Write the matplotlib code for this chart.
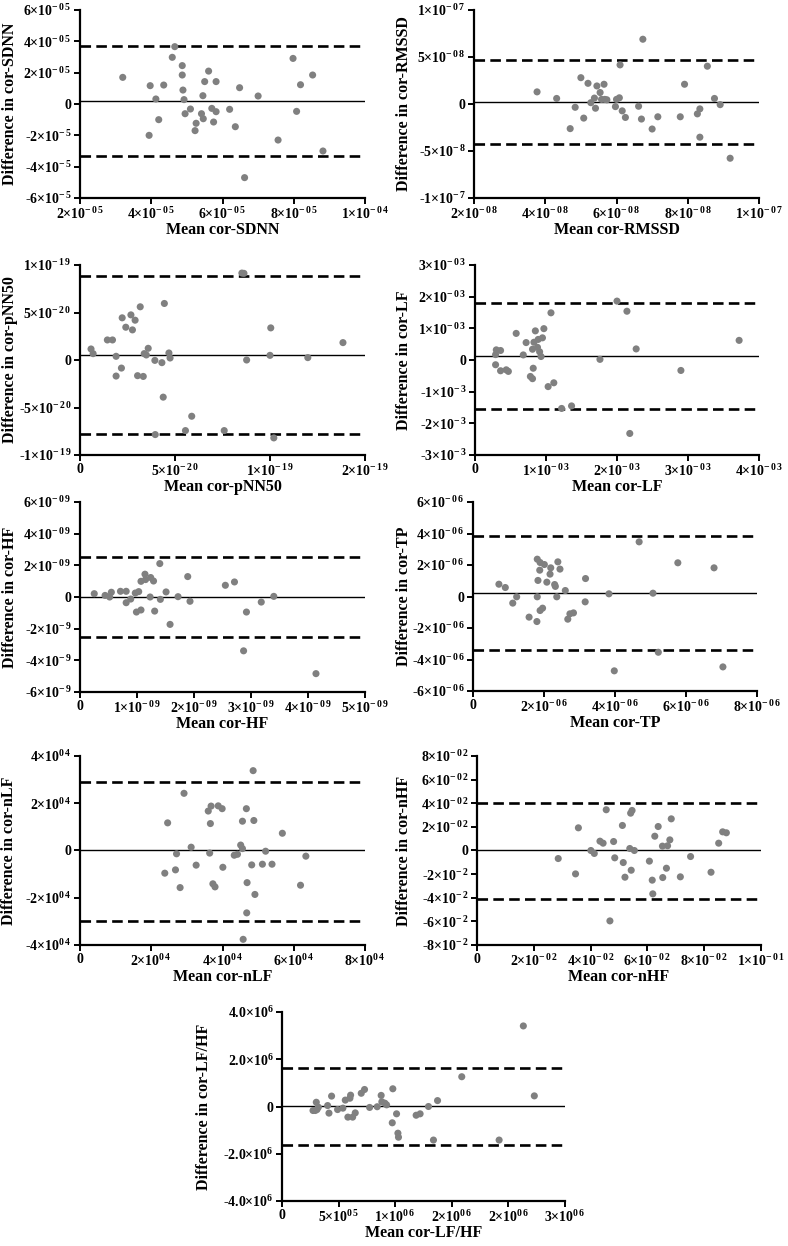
import numpy as np
import matplotlib
matplotlib.use("Agg")
import matplotlib.pyplot as plt

plt.rcParams.update({
    "font.family": "Liberation Serif",
    "font.weight": "bold",
    "mathtext.fontset": "custom",
    "mathtext.rm": "Liberation Serif:bold",
    "mathtext.it": "Liberation Serif:bold:italic",
    "mathtext.bf": "Liberation Serif:bold",
})

W, H = 788, 1246


def sci(m, e):
    # exponent characters are spaced out like in the original figure
    return m + "\u00d710$^{" + r"\,".join(e) + "}$"


# ---------------- data ----------------
sdnn_x = np.array([3.2, 3.97, 4.35, 4.13, 4.21, 3.94, 4.59, 4.66, 4.87, 4.87, 4.89, 4.92,
                   4.95, 5.1, 5.26, 5.23, 5.61, 5.5, 5.82, 5.45, 5.41, 5.46, 5.7, 5.82,
                   5.75, 6.2, 6.36, 6.48, 6.62, 7.0, 7.56, 7.98, 8.08, 8.19, 8.53, 8.82]) * 1e-5
sdnn_y = np.array([1.7, 1.17, 1.21, 0.32, -1.0, -2.0, 2.98, 3.66, 2.45, 1.85, 0.89, 0.28,
                   -0.62, -0.32, -1.23, -1.7, 2.1, 1.43, 1.43, 0.53, -0.62, -0.94, -0.28, -0.49,
                   -1.15, -0.34, -1.45, 1.04, -4.7, 0.51, -2.3, 2.91, -0.47, 1.23, 1.85, -3.0]) * 1e-5
sdnn_lines = np.array([0.21, 3.72, -3.3]) * 1e-5

rmssd_x = np.array([3.77, 4.32, 4.7, 4.84, 5.0, 5.08, 5.2, 5.28, 5.38, 5.41, 5.45, 5.54,
                    5.58, 5.65, 5.67, 5.73, 5.97, 6.0, 6.08, 6.1, 6.16, 6.25, 6.62, 6.7,
                    6.74, 7.0, 7.16, 7.79, 7.91, 8.27, 8.34, 8.34, 8.55, 8.75, 8.91, 9.19]) * 1e-8
rmssd_y = np.array([1.29, 0.59, -2.62, -0.35, 2.8, -1.5, 2.2, 0.14, 0.63, -0.45, 1.92, 1.22,
                    0.49, 2.1, 0.49, 0.45, -0.28, 0.49, 0.66, 4.16, -0.73, -1.43, -0.24, -1.6,
                    6.89, -2.66, -1.36, -1.36, 2.1, -1.05, -0.52, -3.53, 4.02, 0.59, -0.07, -5.77]) * 1e-8
rmssd_lines = np.array([0.25, 4.65, -4.3]) * 1e-8

pnn50_x = np.array([0.58, 0.69, 1.44, 1.71, 1.9, 1.9, 2.18, 2.22, 2.41, 2.68, 2.76, 2.9,
                    3.03, 3.17, 3.33, 3.38, 3.49, 3.59, 3.94, 3.96, 4.31, 4.38, 4.44, 4.68,
                    4.74, 5.55, 5.88, 7.59, 8.52, 8.63, 8.77, 10.04, 10.0, 10.2, 11.99, 13.84]) * 1e-20
pnn50_y = np.array([1.16, 0.67, 2.11, 2.11, 0.39, -1.69, -0.85, 4.44, 3.45, 4.75, 3.17, 4.19,
                    -1.65, 5.6, -1.73, 0.67, 0.53, 1.23, -0.04, -7.85, -0.28, -3.91, 5.95, 0.74,
                    0.21, -7.43, -5.92, -7.43, 9.15, 9.12, 0.0, 3.38, 0.49, -8.2, 0.25, 1.83]) * 1e-20
pnn50_lines = np.array([0.53, 8.87, -7.78]) * 1e-20

lf_x = np.array([0.3, 0.29, 0.36, 0.29, 0.36, 0.44, 0.47, 0.58, 0.68, 0.72, 0.78, 0.81,
                 0.82, 0.81, 0.83, 0.85, 0.88, 0.89, 0.91, 0.95, 0.93, 0.97, 1.03, 1.07,
                 1.11, 1.22, 1.36, 1.76, 2.0, 2.14, 2.18, 2.27, 2.9, 3.72]) * 1e-3
lf_y = np.array([0.32, 0.17, 0.3, -0.15, -0.34, -0.31, -0.36, 0.84, 0.16, 0.55, -0.52, -0.59,
                 -0.26, 0.34, 0.56, 0.92, 0.4, 0.65, 0.26, 0.7, 0.11, 0.99, -0.84, 1.49,
                 -0.72, -1.53, -1.45, 0.02, 1.86, 1.54, -2.32, 0.35, -0.33, 0.62]) * 1e-3
lf_lines = np.array([0.127, 1.8, -1.56]) * 1e-3

hf_x = np.array([0.25, 0.44, 0.52, 0.55, 0.71, 0.81, 0.81, 0.89, 0.97, 1.03, 0.99, 1.07,
                 1.07, 1.14, 1.15, 1.24, 1.23, 1.29, 1.31, 1.4, 1.41, 1.51, 1.58, 1.72,
                 1.89, 1.93, 2.55, 2.71, 2.87, 2.92, 3.18, 3.4, 4.14]) * 1e-9
hf_y = np.array([0.21, 0.1, 0.0, 0.3, 0.36, 0.36, -0.36, -0.13, 0.25, 0.34, -0.95, -0.82,
                 0.99, 1.44, 1.1, 1.23, 0.0, 1.01, -0.89, 2.11, -0.15, 0.32, -1.73, 0.02,
                 1.29, -0.27, 0.74, 0.95, -3.4, -0.95, -0.32, 0.04, -4.84]) * 1e-9
hf_lines = np.array([0.0, 2.5, -2.54]) * 1e-9

tp_x = np.array([0.73, 0.91, 1.12, 1.23, 1.58, 1.8, 1.81, 1.83, 1.81, 1.89, 1.88, 1.89,
                 1.96, 2.01, 2.08, 2.17, 2.19, 2.3, 2.32, 2.36, 2.39, 2.45, 2.6, 2.67,
                 2.73, 2.83, 3.16, 3.17, 3.83, 3.98, 4.68, 5.07, 5.22, 5.77, 6.79, 7.04]) * 1e-6
tp_y = np.array([0.78, 0.57, -0.42, -0.02, -1.31, -1.59, -0.02, 1.02, 2.37, 2.16, 1.67, -0.89,
                 -0.74, 2.03, 0.91, 1.42, 1.82, 0.76, 0.64, -0.02, 2.2, 1.74, 0.38, -1.44,
                 -1.1, -1.04, -0.34, 1.14, 0.17, -4.72, 3.47, 0.21, -3.54, 2.14, 1.82, -4.47]) * 1e-6
tp_lines = np.array([0.21, 3.81, -3.41]) * 1e-6

nlf_x = np.array([2.38, 2.46, 2.68, 2.71, 2.81, 2.92, 3.12, 3.26, 3.6, 3.64, 3.66, 3.68,
                  3.73, 3.79, 3.88, 3.99, 4.01, 4.33, 4.42, 4.51, 4.56, 4.56, 4.58, 4.67,
                  4.68, 4.69, 4.82, 4.86, 4.88, 4.91, 5.12, 5.21, 5.39, 5.68, 6.19, 6.34]) * 1e4
nlf_y = np.array([-0.96, 1.17, -0.82, -0.14, -1.57, 2.42, 0.14, -0.62, 1.67, -0.11, 1.14, 1.88,
                  -1.41, -1.54, 1.89, 1.77, -0.71, -0.2, -0.16, 0.23, 0.08, 1.24, -3.76, 1.77,
                  -2.64, -1.36, -0.61, 3.38, 1.27, -1.86, -0.58, -0.03, -0.58, 0.73, -1.47, -0.24]) * 1e4
nlf_lines = np.array([0.0, 2.91, -2.97]) * 1e4

nhf_x = np.array([2.86, 3.47, 3.57, 4.01, 4.13, 4.33, 4.44, 4.55, 4.68, 4.81, 4.85, 5.12,
                  5.15, 5.21, 5.38, 5.41, 5.46, 5.43, 5.54, 6.07, 6.17, 6.19, 6.26, 6.38,
                  6.53, 6.54, 6.67, 6.71, 6.79, 6.84, 7.16, 7.52, 8.24, 8.51, 8.65, 8.78]) * 1e-2
nhf_y = np.array([-0.68, -1.98, 1.92, 0.0, -0.25, 0.79, 0.62, 3.45, -5.96, 0.76, -0.62, 2.12,
                  -1.02, -2.26, 0.17, 3.16, 3.39, -1.67, 0.0, -0.9, -2.51, -3.67, 1.21, 2.03,
                  0.37, -2.29, -1.5, 0.4, 0.9, 2.68, -2.23, -0.51, -1.84, 0.62, 1.58, 1.5]) * 1e-2
nhf_lines = np.array([0.0, 4.0, -4.1]) * 1e-2

lfhf_x = np.array([2.74, 2.94, 3.09, 3.03, 3.21, 4.03, 4.15, 4.38, 4.91, 5.38, 5.59, 5.82,
                   6.0, 6.06, 6.24, 6.47, 7.0, 7.29, 7.74, 8.41, 8.76, 8.82, 9.09, 9.24,
                   9.74, 9.79, 10.12, 10.24, 10.29, 11.85, 12.2, 12.94, 13.38, 13.74, 15.88,
                   19.18, 21.32, 22.29]) * 1e5
lfhf_y = np.array([-0.17, -0.17, -0.13, 0.18, -0.03, 0.04, -0.28, 0.44, -0.13, -0.07, 0.27, -0.45,
                   0.35, 0.48, -0.45, -0.27, 0.56, 0.72, -0.04, -0.01, 0.47, 0.2, 0.14, 0.07,
                   -0.69, 0.75, -0.31, -1.13, -1.3, -0.37, -0.31, 0.0, -1.42, 0.25, 1.26,
                   -1.42, 3.41, 0.45]) * 1e6
lfhf_lines = np.array([0.02, 1.65, -1.62]) * 1e6

# tick positions and labels
sdnn_xt = [2e-5, 4e-5, 6e-5, 8e-5, 1e-4]
sdnn_xl = [sci("2", "-05"), sci("4", "-05"), sci("6", "-05"), sci("8", "-05"), sci("1", "-04")]
sdnn_yt = [-6e-5, -4e-5, -2e-5, 0, 2e-5, 4e-5, 6e-5]
sdnn_yl = [sci("-6", "-5"), sci("-4", "-5"), sci("-2", "-5"), "0",
           sci("2", "-05"), sci("4", "-05"), sci("6", "-05")]

rmssd_xt = [2e-8, 4e-8, 6e-8, 8e-8, 1e-7]
rmssd_xl = [sci("2", "-08"), sci("4", "-08"), sci("6", "-08"), sci("8", "-08"), sci("1", "-07")]
rmssd_yt = [-1e-7, -5e-8, 0, 5e-8, 1e-7]
rmssd_yl = [sci("-1", "-7"), sci("-5", "-8"), "0", sci("5", "-08"), sci("1", "-07")]

pnn50_xt = [0, 5e-20, 1e-19, 1.5e-19]
pnn50_xl = ["0", sci("5", "-20"), sci("1", "-19"), sci("2", "-19")]
pnn50_yt = [-1e-19, -5e-20, 0, 5e-20, 1e-19]
pnn50_yl = [sci("-1", "-19"), sci("-5", "-20"), "0", sci("5", "-20"), sci("1", "-19")]

lf_xt = [0, 1e-3, 2e-3, 3e-3, 4e-3]
lf_xl = ["0", sci("1", "-03"), sci("2", "-03"), sci("3", "-03"), sci("4", "-03")]
lf_yt = [-3e-3, -2e-3, -1e-3, 0, 1e-3, 2e-3, 3e-3]
lf_yl = [sci("-3", "-3"), sci("-2", "-3"), sci("-1", "-3"), "0",
         sci("1", "-03"), sci("2", "-03"), sci("3", "-03")]

hf_xt = [0, 1e-9, 2e-9, 3e-9, 4e-9, 5e-9]
hf_xl = ["0", sci("1", "-09"), sci("2", "-09"), sci("3", "-09"), sci("4", "-09"), sci("5", "-09")]
hf_yt = [-6e-9, -4e-9, -2e-9, 0, 2e-9, 4e-9, 6e-9]
hf_yl = [sci("-6", "-9"), sci("-4", "-9"), sci("-2", "-9"), "0",
         sci("2", "-09"), sci("4", "-09"), sci("6", "-09")]

tp_xt = [0, 2e-6, 4e-6, 6e-6, 8e-6]
tp_xl = ["0", sci("2", "-06"), sci("4", "-06"), sci("6", "-06"), sci("8", "-06")]
tp_yt = [-6e-6, -4e-6, -2e-6, 0, 2e-6, 4e-6, 6e-6]
tp_yl = [sci("-6", "-06"), sci("-4", "-06"), sci("-2", "-06"), "0",
         sci("2", "-06"), sci("4", "-06"), sci("6", "-06")]

nlf_xt = [0, 2e4, 4e4, 6e4, 8e4]
nlf_xl = ["0", sci("2", "04"), sci("4", "04"), sci("6", "04"), sci("8", "04")]
nlf_yt = [-4e4, -2e4, 0, 2e4, 4e4]
nlf_yl = [sci("-4", "04"), sci("-2", "04"), "0", sci("2", "04"), sci("4", "04")]

nhf_xt = [0, 2e-2, 4e-2, 6e-2, 8e-2, 1e-1]
nhf_xl = ["0", sci("2", "-02"), sci("4", "-02"), sci("6", "-02"), sci("8", "-02"), sci("1", "-01")]
nhf_yt = [-8e-2, -6e-2, -4e-2, -2e-2, 0, 2e-2, 4e-2, 6e-2, 8e-2]
nhf_yl = [sci("-8", "-2"), sci("-6", "-2"), sci("-4", "-2"), sci("-2", "-2"), "0",
          sci("2", "-02"), sci("4", "-02"), sci("6", "-02"), sci("8", "-02")]

lfhf_xt = [0, 5e5, 1e6, 1.5e6, 2e6, 2.5e6]
lfhf_xl = ["0", sci("5", "05"), sci("1", "06"), sci("2", "06"), sci("2", "06"), sci("3", "06")]
lfhf_yt = [-4e6, -2e6, 0, 2e6, 4e6]
lfhf_yl = [sci("-4.0", "6"), sci("-2.0", "6"), "0", sci("2.0", "6"), sci("4.0", "6")]

# name, data, ticks, axes box in pixels (left, top, right, bottom), right edge of y label
panels = [
    ("SDNN", sdnn_x, sdnn_y, sdnn_lines, sdnn_xt, sdnn_xl, sdnn_yt, sdnn_yl, (80, 10, 365, 198), 18),
    ("RMSSD", rmssd_x, rmssd_y, rmssd_lines, rmssd_xt, rmssd_xl, rmssd_yt, rmssd_yl, (474, 10, 759, 198), 412),
    ("pNN50", pnn50_x, pnn50_y, pnn50_lines, pnn50_xt, pnn50_xl, pnn50_yt, pnn50_yl, (80, 265, 365, 455), 18),
    ("LF", lf_x, lf_y, lf_lines, lf_xt, lf_xl, lf_yt, lf_yl, (475, 265, 759, 455), 412),
    ("HF", hf_x, hf_y, hf_lines, hf_xt, hf_xl, hf_yt, hf_yl, (80, 502, 365, 692), 18),
    ("TP", tp_x, tp_y, tp_lines, tp_xt, tp_xl, tp_yt, tp_yl, (473, 502, 757, 691), 412),
    ("nLF", nlf_x, nlf_y, nlf_lines, nlf_xt, nlf_xl, nlf_yt, nlf_yl, (80, 756, 365, 945), 17),
    ("nHF", nhf_x, nhf_y, nhf_lines, nhf_xt, nhf_xl, nhf_yt, nhf_yl, (477, 756, 761, 945), 412),
    ("LF/HF", lfhf_x, lfhf_y, lfhf_lines, lfhf_xt, lfhf_xl, lfhf_yt, lfhf_yl, (282, 1012, 565, 1201), 212),
]

fig = plt.figure(figsize=(W / 100, H / 100), dpi=100)

for name, x, y, lines, xt, xl, yt, yl, (l, t, r, b), ylab_x in panels:
    ax = fig.add_axes([l / W, 1 - b / H, (r - l) / W, (b - t) / H])
    ax.scatter(x, y, s=26, color="#808080", edgecolors="none", zorder=3, clip_on=False)
    ax.axhline(lines[0], color="black", lw=1.0, zorder=2)
    ax.axhline(lines[1], color="black", lw=1.9, dashes=(4, 2), zorder=2)
    ax.axhline(lines[2], color="black", lw=1.9, dashes=(4, 2), zorder=2)
    ax.set_xlim(xt[0], xt[-1])
    ax.set_ylim(yt[0], yt[-1])
    ax.set_xticks(xt)
    ax.set_xticklabels(xl)
    ax.set_yticks(yt)
    ax.set_yticklabels(yl)
    for s in ["top", "right"]:
        ax.spines[s].set_visible(False)
    for s in ["left", "bottom"]:
        ax.spines[s].set_linewidth(1.6)
    ax.tick_params(direction="out", length=4, width=1.4, labelsize=10, pad=2)
    ax.set_xlabel("Mean cor-" + name, fontsize=11.5, fontweight="bold")
    ax.set_ylabel("Difference in cor-" + name, fontsize=11.5, fontweight="bold")
    ax.xaxis.set_label_coords(0.5, -24 / (b - t))
    ax.yaxis.set_label_coords((ylab_x - l) / (r - l), 0.5)

fig.savefig("out.png", dpi=100)
